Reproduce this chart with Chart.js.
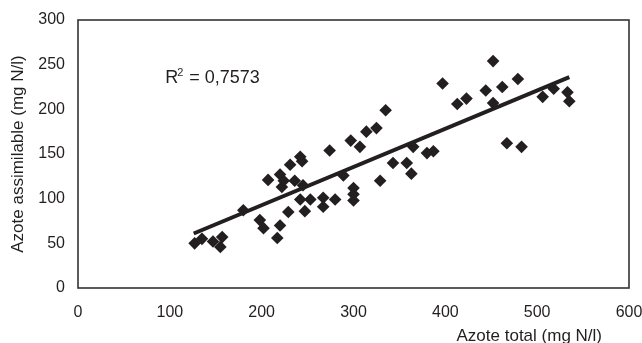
<!DOCTYPE html>
<html>
<head>
<meta charset="utf-8">
<script src="https://cdn.jsdelivr.net/npm/chart.js@4/dist/chart.umd.min.js"></script>
<style>
  html, body { margin: 0; padding: 0; background: #fff; }
  #wrap { width: 642px; height: 343px; position: relative; }
</style>
</head>
<body>
<div id="wrap"><canvas id="chart"></canvas></div>
<script>
'use strict';

// Azote total (mg N/l) vs azote assimilable (mg N/l)
const totalN = [127, 135, 147, 155, 157, 180, 198, 202, 207, 217, 220, 220, 222, 224, 229, 231, 236, 242, 244, 245,
    242, 247, 253, 267, 267, 274, 280, 289, 297, 300, 300, 300, 307, 314, 325, 329, 335, 343, 358, 363,
    365, 380, 387, 397, 413, 423, 444, 452, 452, 462, 467, 479, 483, 506, 518, 533, 535];
const assimN = [50, 55, 52, 46, 57, 87, 76, 67, 121, 56, 70, 127, 113, 120, 85, 138, 120, 147, 142, 115,
    99, 86, 99, 101, 91, 154, 99, 126, 165, 112, 105, 98, 158, 175, 179, 120, 199, 140, 140, 128,
    158, 151, 153, 229, 206, 212, 221, 207, 254, 225, 162, 234, 158, 214, 223, 219, 209];

// trend line ends as drawn
const trendX = [126, 535];
const trendY = [61, 236];

const xTicks = [0, 100, 200, 300, 400, 500, 600];
const yTicks = [0, 50, 100, 150, 200, 250, 300];

const R2_LABEL = '0,7573';
const INK = '#231f20';
const FONT = '"Liberation Sans", Arial, sans-serif';

const frame = {
    id: 'frame',
    afterDatasetsDraw(chart) {
        const { ctx, chartArea: a } = chart;
        ctx.save();
        ctx.strokeStyle = '#333';
        ctx.lineWidth = 1.6;
        ctx.strokeRect(a.left, a.top, a.right - a.left, a.bottom - a.top);

        // R² annotation
        const x = chart.scales.x.getPixelForValue(95);
        const y = chart.scales.y.getPixelForValue(229);
        ctx.fillStyle = INK;
        ctx.textBaseline = 'alphabetic';
        ctx.textAlign = 'left';
        ctx.font = '18px ' + FONT;
        ctx.fillText('R', x, y);
        let w = ctx.measureText('R').width;
        ctx.font = '11px ' + FONT;
        ctx.fillText('2', x + w - 1, y - 7);
        w += 6;
        ctx.font = '18px ' + FONT;
        ctx.fillText(' = ' + R2_LABEL, x + w, y);

        // x axis title, right side under the axis
        ctx.font = '17px ' + FONT;
        ctx.textAlign = 'right';
        ctx.fillText('Azote total (mg N/l)', a.right - 27, 341);
        ctx.restore();
    }
};

const points = totalN.map((v, i) => ({ x: v, y: assimN[i] }));
const trend = trendX.map((v, i) => ({ x: v, y: trendY[i] }));

new Chart(document.getElementById('chart'), {
    type: 'scatter',
    data: {
        datasets: [
            {
                label: 'Azote',
                data: points,
                pointStyle: 'rectRot',
                pointRadius: 6.3,
                backgroundColor: INK,
                borderColor: INK,
                borderWidth: 0,
                order: 2,
            },
            {
                label: 'Tendance',
                type: 'line',
                data: trend,
                borderColor: INK,
                borderWidth: 4,
                pointRadius: 0,
                fill: false,
                order: 1,
            }
        ]
    },
    options: {
        responsive: true,
        maintainAspectRatio: false,
        animation: false,
        layout: { padding: { top: 20, right: 0, left: 0, bottom: 0 } },
        plugins: {
            legend: { display: false },
            tooltip: { enabled: false },
        },
        scales: {
            x: {
                type: 'linear',
                min: 0,
                max: 600,
                afterBuildTicks: (s) => { s.ticks = xTicks.map(v => ({ value: v })); },
                afterFit: (s) => { s.height = 55; s.paddingRight = 13; s.paddingLeft = 0; },
                grid: { display: false, drawTicks: false },
                border: { display: false },
                ticks: { color: INK, font: { family: FONT, size: 16 }, padding: 15, maxRotation: 0 },
            },
            y: {
                type: 'linear',
                min: 0,
                max: 300,
                afterBuildTicks: (s) => { s.ticks = yTicks.map(v => ({ value: v })); },
                afterFit: (s) => { s.width = 78; s.paddingTop = 0; s.paddingBottom = 0; },
                grid: { display: false, drawTicks: false },
                border: { display: false },
                ticks: { color: INK, font: { family: FONT, size: 16 }, padding: 13 },
                title: {
                    display: true,
                    text: 'Azote assimilable (mg N/l)',
                    color: INK,
                    font: { family: FONT, size: 17 },
                    padding: { top: 8, bottom: 0 },
                },
            }
        }
    },
    plugins: [frame]
});
</script>
</body>
</html>
